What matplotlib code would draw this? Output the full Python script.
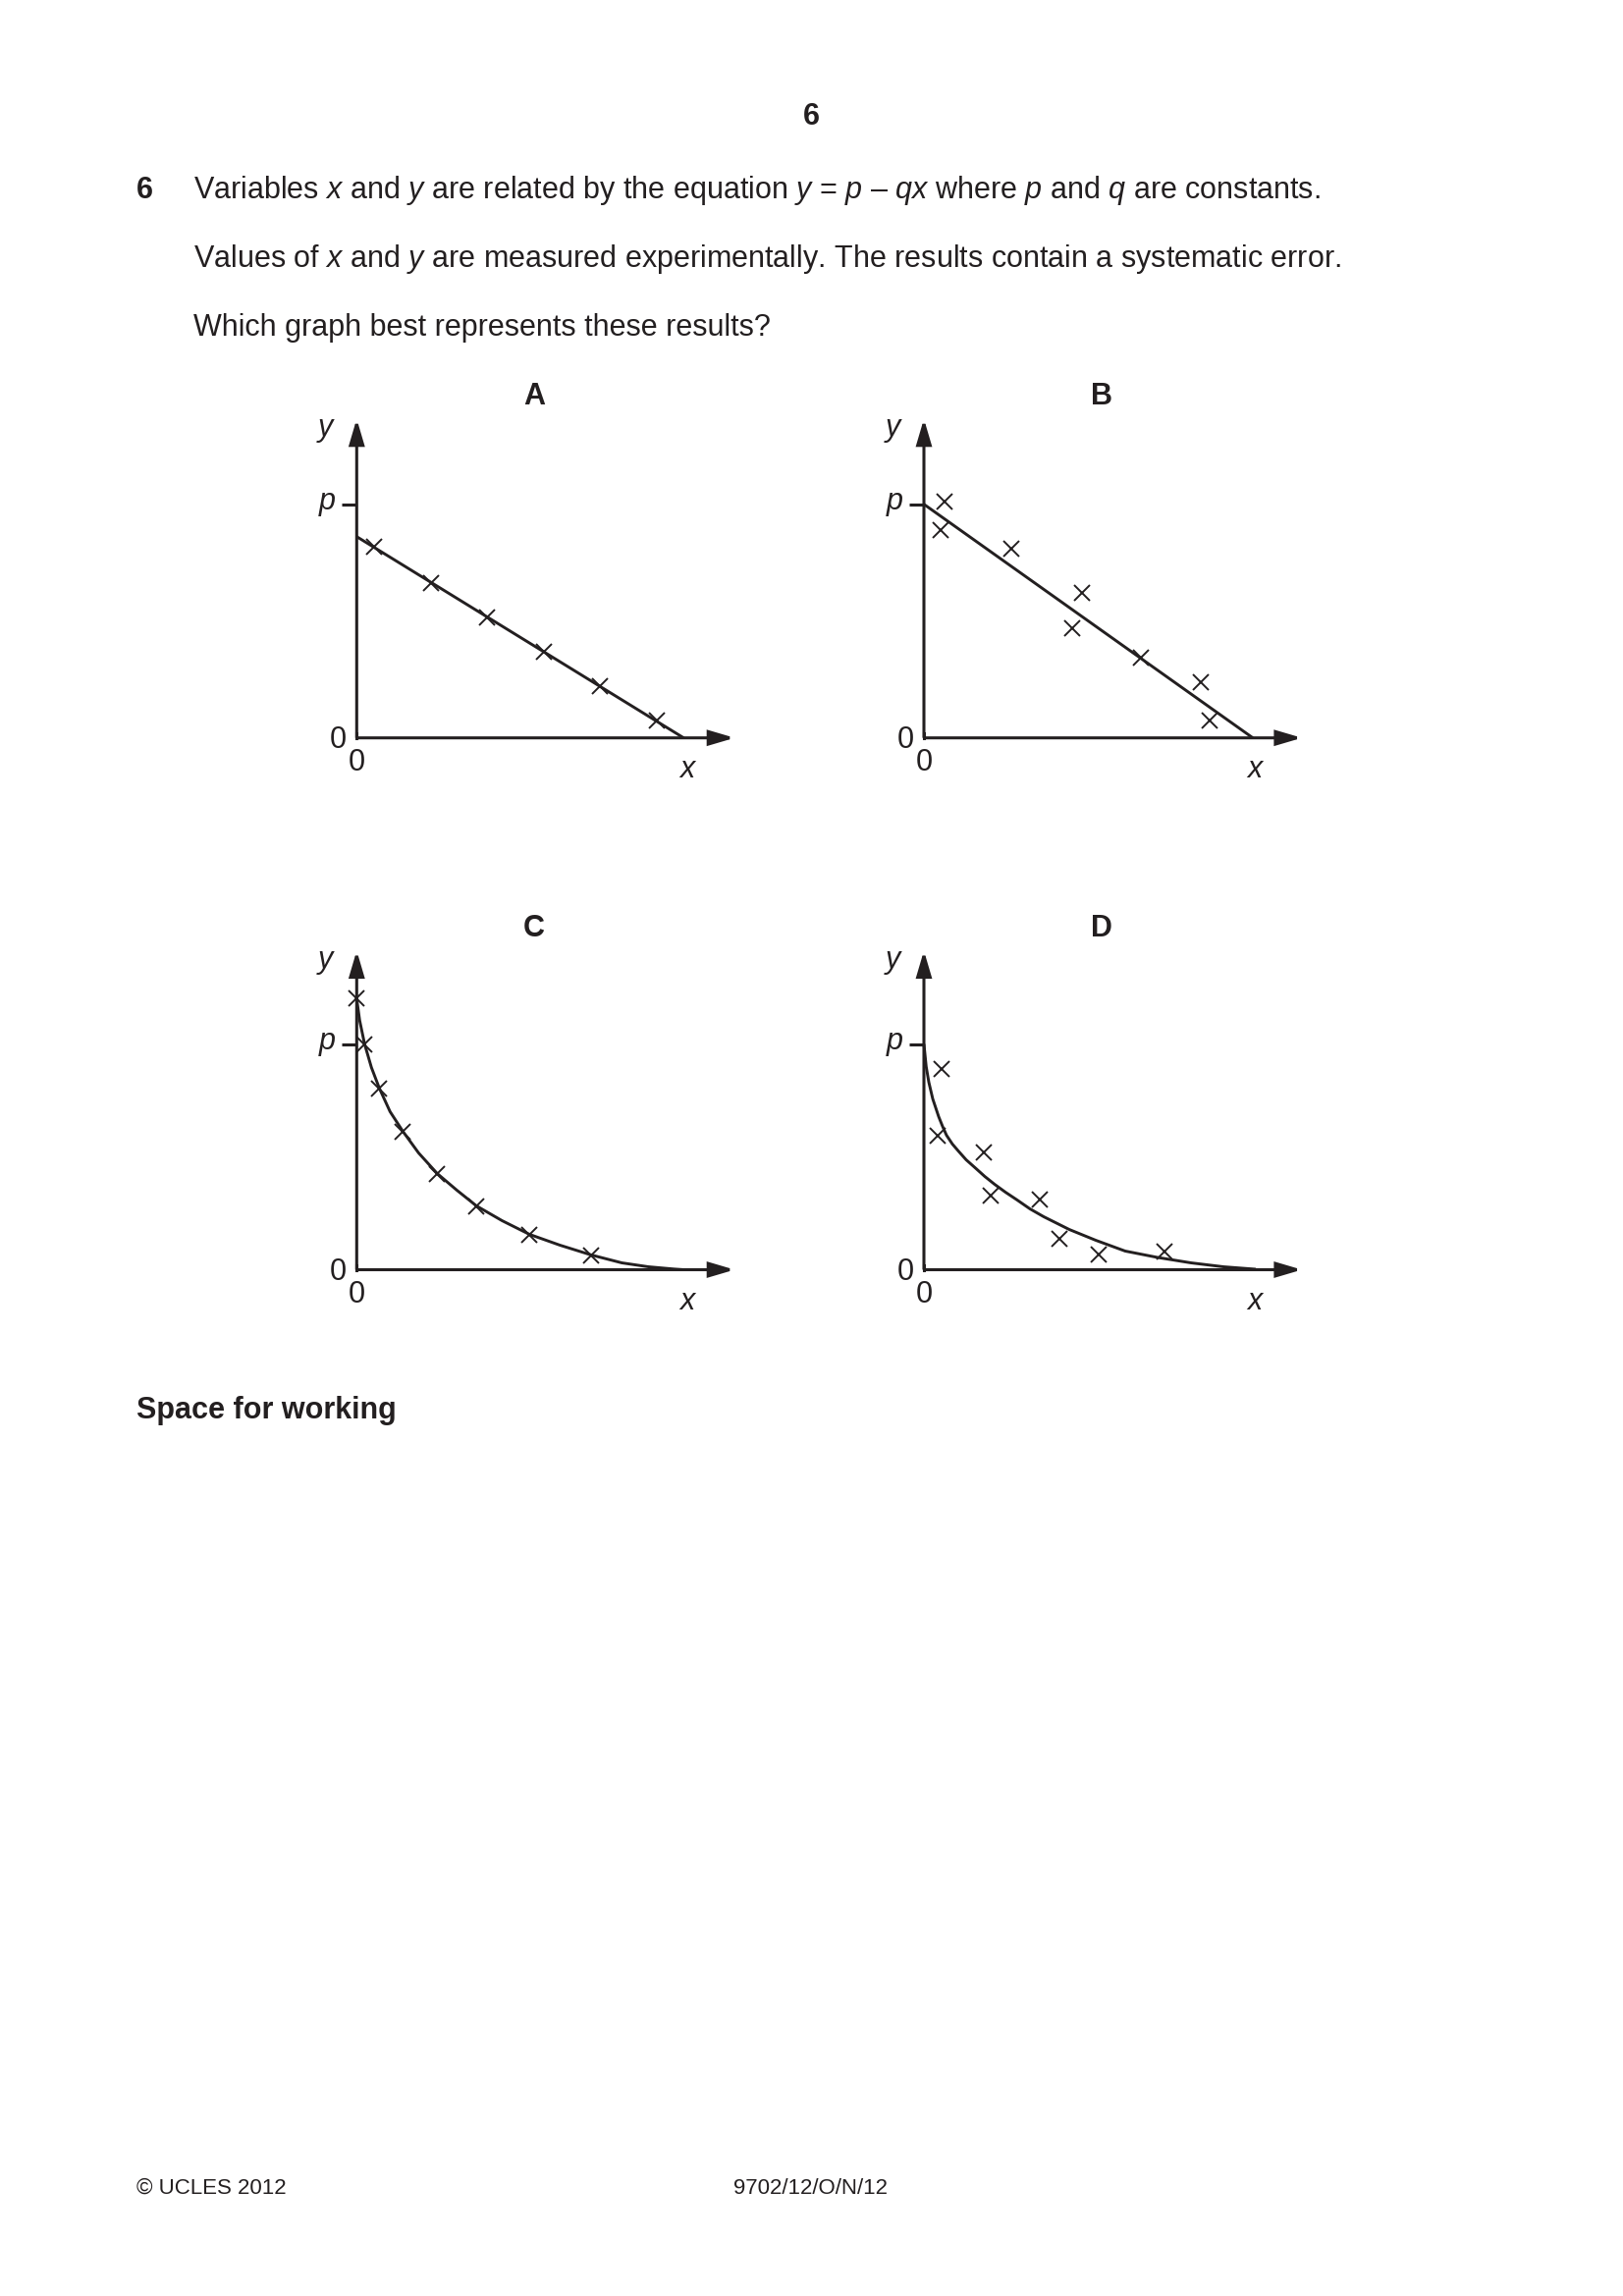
import matplotlib
matplotlib.use("Agg")
import matplotlib.pyplot as plt

plt.rcParams['font.family'] = ['Liberation Sans', 'DejaVu Sans']
plt.rcParams['mathtext.fontset'] = 'custom'
plt.rcParams['mathtext.rm'] = 'Liberation Sans'
plt.rcParams['mathtext.it'] = 'Liberation Sans:italic'
plt.rcParams['mathtext.bf'] = 'Liberation Sans:bold'

# ---------------- data (units: 1 = 100 px at page scale, origin of each graph) -------------
panel_names = ['A', 'B', 'C', 'D']

# Graph A: straight line with a systematic offset, points on the line
A_cross_x = [0.18, 0.76, 1.33, 1.91, 2.48, 3.06]
A_cross_y = [1.95, 1.58, 1.23, 0.88, 0.53, 0.18]
A_line_x = [0.0, 3.33]
A_line_y = [2.05, 0.0]
A_p = 2.38

# Graph B: straight line through p, scattered points
B_cross_x = [0.21, 0.17, 0.89, 1.61, 1.51, 2.21, 2.82, 2.91]
B_cross_y = [2.41, 2.12, 1.93, 1.48, 1.12, 0.82, 0.57, 0.18]
B_line_x = [0.0, 3.35]
B_line_y = [2.38, 0.0]
B_p = 2.38

# Graph C: curve, points on the curve
C_cross_x = [0.00, 0.08, 0.23, 0.47, 0.82, 1.22, 1.76, 2.39]
C_cross_y = [2.77, 2.30, 1.85, 1.41, 0.98, 0.65, 0.36, 0.15]
C_curve_x = [0.00, 0.03, 0.08, 0.15, 0.23, 0.34, 0.47, 0.63, 0.82, 1.02, 1.22,
             1.48, 1.76, 2.07, 2.39, 2.70, 2.97, 3.23, 3.33]
C_curve_y = [2.76, 2.54, 2.30, 2.06, 1.85, 1.61, 1.41, 1.19, 0.98, 0.81, 0.65,
             0.50, 0.36, 0.25, 0.15, 0.07, 0.03, 0.007, 0.0]
C_p = 2.30

# Graph D: curve from p, scattered points
D_cross_x = [0.18, 0.14, 0.61, 0.68, 1.18, 1.38, 1.78, 2.45]
D_cross_y = [2.05, 1.37, 1.20, 0.76, 0.72, 0.32, 0.16, 0.19]
D_curve_x = [0.00, 0.006, 0.023, 0.05, 0.09, 0.15, 0.19, 0.23, 0.29, 0.35, 0.43, 0.52,
             0.62, 0.72, 0.83, 0.95, 1.08, 1.22, 1.48, 1.75, 2.05, 2.38, 2.72, 3.05, 3.38]
D_curve_y = [2.30, 2.24, 2.07, 1.91, 1.74, 1.56, 1.46, 1.37, 1.28, 1.21, 1.12, 1.04,
             0.95, 0.87, 0.79, 0.71, 0.62, 0.54, 0.41, 0.30, 0.19, 0.125, 0.07, 0.03, 0.005]
D_p = 2.30

# ---------------- figure -------------
W, H = 1653, 2339
DPI = 200
fig = plt.figure(figsize=(W / DPI, H / DPI), dpi=DPI)
fig.patch.set_facecolor('white')
INK = '#231f20'


def fx(x):
    return x / W


def fy(y):
    return 1 - y / H


# page text
fig.text(fx(826.5), fy(127), '6', fontsize=11, fontweight='bold', ha='center', va='baseline', color=INK)
fig.text(fx(139), fy(202), '6', fontsize=11, fontweight='bold', ha='left', va='baseline', color=INK)
fig.text(fx(197), fy(202),
         'Variables $x$ and $y$ are related by the equation $y$ = $p$ \u2013 $qx$ where $p$ and $q$ are constants.',
         fontsize=11, ha='left', va='baseline', color=INK)
fig.text(fx(197), fy(272),
         'Values of $x$ and $y$ are measured experimentally. The results contain a systematic error.',
         fontsize=11, ha='left', va='baseline', color=INK)
fig.text(fx(197), fy(342), 'Which graph best represents these results?',
         fontsize=11, ha='left', va='baseline', color=INK)
fig.text(fx(139), fy(1445), 'Space for working', fontsize=11, fontweight='bold',
         ha='left', va='baseline', color=INK)
fig.text(fx(139), fy(2235), '\u00a9 UCLES 2012', fontsize=8, ha='left', va='baseline', color=INK)
fig.text(fx(825), fy(2235), '9702/12/O/N/12', fontsize=8, ha='center', va='baseline', color=INK)

# graph placement (origin pixel positions)
origins = {'A': (363.3, 751.7), 'B': (941.0, 751.7), 'C': (363.3, 1293.5), 'D': (941.0, 1293.5)}
XLEN, YLEN = 3.85, 3.25

panels = {
    'A': dict(cx=A_cross_x, cy=A_cross_y, lx=A_line_x, ly=A_line_y, p=A_p),
    'B': dict(cx=B_cross_x, cy=B_cross_y, lx=B_line_x, ly=B_line_y, p=B_p),
    'C': dict(cx=C_cross_x, cy=C_cross_y, lx=C_curve_x, ly=C_curve_y, p=C_p),
    'D': dict(cx=D_cross_x, cy=D_cross_y, lx=D_curve_x, ly=D_curve_y, p=D_p),
}

arrow_kw = dict(arrowstyle='-|>,head_length=0.78,head_width=0.23', mutation_scale=10,
                lw=1.1, color=INK, shrinkA=0, shrinkB=0, joinstyle='miter', capstyle='butt')

for name in panel_names:
    ox, oy = origins[name]
    ax = fig.add_axes([fx(ox), fy(oy), XLEN * 100 / W, YLEN * 100 / H])
    ax.set_xlim(0, XLEN)
    ax.set_ylim(0, YLEN)
    ax.axis('off')
    d = panels[name]

    # axes with arrows
    ax.annotate('', xy=(XLEN, 0), xytext=(0, 0), arrowprops=arrow_kw, annotation_clip=False)
    ax.annotate('', xy=(0, YLEN), xytext=(0, 0), arrowprops=arrow_kw, annotation_clip=False)
    ax.plot([0, 0], [0, 0.05], color=INK, lw=1.1, solid_capstyle='projecting', clip_on=False)

    # p tick
    ax.plot([-0.15, 0], [d['p'], d['p']], color=INK, lw=1.1, solid_capstyle='butt', clip_on=False)

    # line / curve
    ax.plot(d['lx'], d['ly'], color=INK, lw=1.05, solid_capstyle='butt',
            solid_joinstyle='round', clip_on=False)
    # crosses
    ax.plot(d['cx'], d['cy'], ls='none', marker='x', ms=6.0, mew=0.7, color=INK, clip_on=False)

    # labels
    ax.text(1.805, 3.40, name, fontsize=11, fontweight='bold', ha='center', va='baseline', color=INK)
    ax.text(-0.32, 3.08, 'y', fontsize=11, style='italic', ha='center', va='baseline', color=INK)
    ax.text(-0.215, d['p'] - 0.05, 'p', fontsize=11, style='italic', ha='right', va='baseline', color=INK)
    ax.text(-0.10, -0.10, '0', fontsize=11, ha='right', va='baseline', color=INK)
    ax.text(0.0, -0.333, '0', fontsize=11, ha='center', va='baseline', color=INK)
    ax.text(3.37, -0.40, 'x', fontsize=11, style='italic', ha='center', va='baseline', color=INK)

fig.savefig('out.png', dpi=DPI, facecolor='white')
